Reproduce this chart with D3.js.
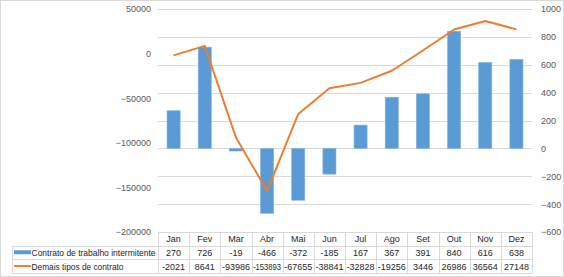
<!DOCTYPE html>
<html>
<head>
<meta charset="utf-8">
<script src="https://cdn.jsdelivr.net/npm/d3@7"></script>
<style>
  body { margin: 0; background: #fff; }
  svg { display: block; font-family: "Liberation Sans", Arial, sans-serif; }
</style>
</head>
<body>
<div id="chart"></div>
<script>
// dados
const months = ['Jan', 'Fev', 'Mar', 'Abr', 'Mai', 'Jun', 'Jul', 'Ago', 'Set', 'Out', 'Nov', 'Dez'];
const intermitente = [270, 726, -19, -466, -372, -185, 167, 367, 391, 840, 616, 638];
const demais = [-2021, 8641, -93986, -153893, -67655, -38841, -32828, -19256, 3446, 26986, 36564, 27148];
const seriesNames = ['Contrato de trabalho intermitente', 'Demais tipos de contrato'];
const leftTicks = [50000, 0, -50000, -100000, -150000, -200000];
const rightTicks = [1000, 800, 600, 400, 200, 0, -200, -400, -600];

const W = 564, H = 277;
const plot = { left: 158, right: 532, top: 9, bottom: 232 };

const svg = d3.select('#chart').append('svg')
    .attr('width', W)
    .attr('height', H);

// borda do gráfico
svg.append('rect')
    .attr('x', 0.5).attr('y', 0.5)
    .attr('width', W - 1).attr('height', H - 1)
    .attr('fill', '#fff')
    .attr('stroke', '#d9d9d9');

const x = d3.scaleBand().domain(months).range([plot.left, plot.right]).padding(0);
const yL = d3.scaleLinear().domain([-200000, 50000]).range([plot.bottom, plot.top]);
const yR = d3.scaleLinear().domain([-600, 1000]).range([plot.bottom, plot.top]);

// linhas de grade
svg.append('g')
    .selectAll('line')
    .data(rightTicks)
    .enter().append('line')
    .attr('x1', plot.left).attr('x2', plot.right)
    .attr('y1', d => Math.round(yR(d)) + 0.5)
    .attr('y2', d => Math.round(yR(d)) + 0.5)
    .attr('stroke', '#d9d9d9')
    .attr('stroke-width', 1);

// eixo esquerdo
const axisL = svg.append('g')
    .attr('transform', `translate(${plot.left},0)`)
    .call(d3.axisLeft(yL).tickValues(leftTicks).tickSize(0).tickPadding(7).tickFormat(d3.format('d')));
axisL.select('.domain').remove();
axisL.selectAll('text')
    .attr('fill', '#595959')
    .style('font-size', '9px');

// eixo direito
const axisR = svg.append('g')
    .attr('transform', `translate(${plot.right},0)`)
    .call(d3.axisRight(yR).tickValues(rightTicks).tickSize(0).tickPadding(9).tickFormat(d3.format('d')));
axisR.select('.domain').remove();
axisR.selectAll('text')
    .attr('fill', '#595959')
    .style('font-size', '9px');

// barras (eixo secundário)
const barW = x.bandwidth() * 0.42;
svg.append('g')
    .selectAll('rect')
    .data(intermitente)
    .enter().append('rect')
    .attr('x', (d, i) => x(months[i]) + (x.bandwidth() - barW) / 2)
    .attr('y', d => Math.min(yR(d), yR(0)))
    .attr('width', barW)
    .attr('height', d => Math.abs(yR(d) - yR(0)))
    .attr('fill', '#5b9bd5')
    .attr('stroke', '#7fb2e0')
    .attr('stroke-width', 0.6);

// linha (eixo principal)
const line = d3.line()
    .x((d, i) => x(months[i]) + x.bandwidth() / 2)
    .y(d => yL(d));
svg.append('path')
    .datum(demais)
    .attr('d', line)
    .attr('fill', 'none')
    .attr('stroke', '#ed7d31')
    .attr('stroke-width', 2)
    .attr('stroke-linejoin', 'round');

// tabela de dados
const table = svg.append('g');
const rowY = [232, 245.5, 259, 273];
const legendLeft = 12.5;
const gridColor = '#d9d9d9';

// linhas horizontais
table.append('line')
    .attr('x1', plot.left).attr('x2', plot.right)
    .attr('y1', rowY[0] + 0.5).attr('y2', rowY[0] + 0.5)
    .attr('stroke', gridColor);
[1, 2, 3].forEach(r => {
    table.append('line')
        .attr('x1', legendLeft).attr('x2', plot.right)
        .attr('y1', Math.round(rowY[r]) + 0.5).attr('y2', Math.round(rowY[r]) + 0.5)
        .attr('stroke', gridColor);
});
// linhas verticais
months.concat(['end']).forEach((m, i) => {
    const xv = Math.round(m === 'end' ? plot.right : x(m)) + 0.5;
    table.append('line')
        .attr('x1', xv).attr('x2', xv)
        .attr('y1', rowY[0]).attr('y2', Math.round(rowY[3]) + 0.5)
        .attr('stroke', gridColor);
});
table.append('line')
    .attr('x1', legendLeft).attr('x2', legendLeft)
    .attr('y1', Math.round(rowY[1]) + 0.5).attr('y2', Math.round(rowY[3]) + 0.5)
    .attr('stroke', gridColor);

// cabeçalho
table.selectAll('text.hdr')
    .data(months)
    .enter().append('text')
    .attr('class', 'hdr')
    .attr('x', d => x(d) + x.bandwidth() / 2)
    .attr('y', (rowY[0] + rowY[1]) / 2 + 3.5)
    .attr('text-anchor', 'middle')
    .style('font-size', '9px')
    .attr('fill', '#262626')
    .text(d => d);

// valores
const legendWidths = [124, 92];
[intermitente, demais].forEach((vals, r) => {
    const cy = (rowY[r + 1] + rowY[r + 2]) / 2 + 3.5;
    table.selectAll('text.v' + r)
        .data(vals)
        .enter().append('text')
        .attr('class', 'v' + r)
        .attr('x', (d, i) => x(months[i]) + x.bandwidth() / 2)
        .attr('y', cy)
        .attr('text-anchor', 'middle')
        .style('font-size', '9px')
        .attr('fill', '#262626')
        .text(d => d)
        .each(function() {
            // comprimir números largos para caber na célula
            if (this.getComputedTextLength() > 28) {
                d3.select(this)
                    .attr('textLength', 28)
                    .attr('lengthAdjust', 'spacingAndGlyphs');
            }
        });
    // legenda
    if (r === 0) {
        table.append('rect')
            .attr('x', 14).attr('y', cy - 5.5)
            .attr('width', 17).attr('height', 4)
            .attr('fill', '#5b9bd5');
    } else {
        table.append('line')
            .attr('x1', 14).attr('x2', 31)
            .attr('y1', cy - 3.5).attr('y2', cy - 3.5)
            .attr('stroke', '#ed7d31')
            .attr('stroke-width', 2);
    }
    table.append('text')
        .attr('x', 31.5)
        .attr('y', cy)
        .style('font-size', '9px')
        .attr('fill', '#262626')
        .attr('textLength', legendWidths[r])
        .attr('lengthAdjust', 'spacingAndGlyphs')
        .text(seriesNames[r]);
});
</script>
</body>
</html>
